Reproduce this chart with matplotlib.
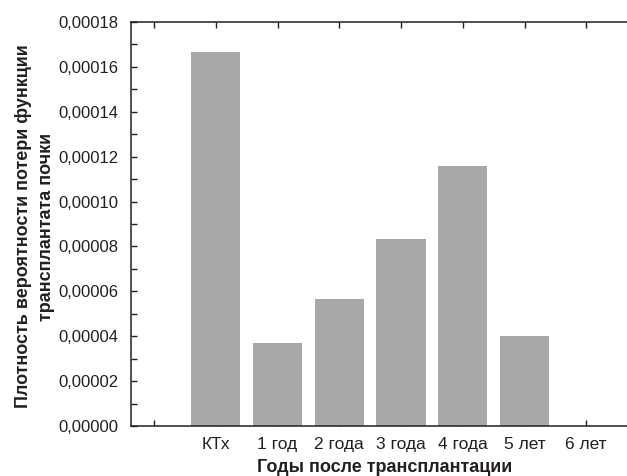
import matplotlib
matplotlib.use("Agg")
import matplotlib.pyplot as plt
from matplotlib.ticker import MultipleLocator, FuncFormatter

categories = ["", "КТх", "1 год", "2 года", "3 года", "4 года", "5 лет", "6 лет"]
values = [0.0, 0.0001665, 0.000037, 0.0000566, 0.0000833, 0.000116, 0.0000401, 0.0]

plt.rcParams['font.family'] = ['Liberation Sans', 'DejaVu Sans']
txt = '#231f20'

W, H = 627, 476
fig = plt.figure(figsize=(W/100, H/100), dpi=100)
ax = fig.add_axes([131/W, 1-426/H, 1-131/W, (426-22)/H])

x = list(range(len(categories)))
ax.bar(x[1:], values[1:], width=0.8, color='#a7a8aa', edgecolor='none', zorder=2)

ax.set_xlim(-0.373, 7.66)
ax.set_ylim(0, 0.00018)
ax.set_xticks(x)
ax.set_xticklabels(categories)
ax.yaxis.set_major_locator(MultipleLocator(0.00002))
ax.yaxis.set_minor_locator(MultipleLocator(0.00001))
ax.yaxis.set_major_formatter(FuncFormatter(lambda v, p: f"{v:.5f}".replace('.', ',')))

for s in ['left', 'top', 'bottom']:
    ax.spines[s].set_linewidth(1.1)
    ax.spines[s].set_color(txt)
ax.spines['right'].set_visible(False)

ax.tick_params(axis='both', which='both', direction='in', colors=txt, labelcolor=txt)
ax.tick_params(axis='x', which='major', top=True, length=4, width=1, pad=8, labelsize=12.5)
ax.tick_params(axis='y', which='major', length=4, width=1, pad=9, labelsize=12)
ax.tick_params(axis='y', which='minor', length=4, width=1)

fig.text(385/W, 1-467/H, "Годы после трансплантации", fontsize=13, fontweight='bold',
         color=txt, ha='center', va='center')
fig.text(35/W, 1-226.5/H, "Плотность вероятности потери функции\nтрансплантата почки",
         fontsize=13, fontweight='bold', color=txt, rotation=90, ha='center', va='center',
         multialignment='center', linespacing=1.45)

fig.savefig("out.png", dpi=100)
